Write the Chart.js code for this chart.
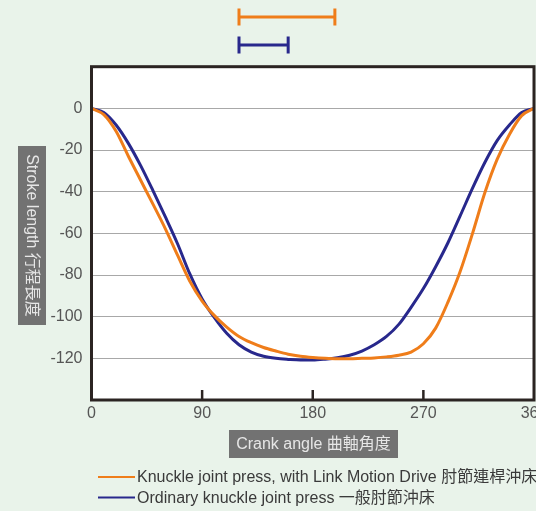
<!DOCTYPE html>
<html>
<head>
<meta charset="utf-8">
<script src="https://cdn.jsdelivr.net/npm/chart.js@4.4.0/dist/chart.umd.min.js"></script>
<style>
  html, body { margin: 0; padding: 0; background: #e9f3ea; }
</style>
</head>
<body>
<canvas id="chart_div" width="536" height="511"></canvas>
<script>
// crank angle (deg) and stroke (mm)
const angles = [0, 10, 20, 30, 40, 50, 60, 70, 80, 90, 100, 110, 120, 130, 140, 150, 160, 170, 180,
  190, 200, 210, 220, 230, 240, 250, 260, 270, 280, 290, 300, 310, 320, 330, 340, 350, 360];
const linkMotion = [0, -3, -11, -23, -34.5, -46, -57.7, -70.5, -83, -92.5, -99.5, -105, -109.5, -112.5, -114.8, -116.5, -118, -119, -119.6,
  -120, -120.2, -120.2, -120, -119.8, -119.3, -118.5, -117, -113, -105.5, -93, -78.2, -60, -40.5, -24.5, -12.5, -3.5, 0];
const ordinary = [0, -2, -8, -16.8, -27.5, -39.5, -52, -65, -79.5, -91.5, -100.5, -108, -113.5, -117, -119, -120, -120.5, -120.8, -120.8,
  -120.4, -119.7, -118.5, -116.5, -113.5, -109.5, -103.7, -95.5, -86.5, -76, -64.5, -51.5, -38.3, -26, -15.5, -8, -2, 0];
const seriesNames = ['Knuckle joint press, with Link Motion Drive 肘節連桿沖床', 'Ordinary knuckle joint press 一般肘節沖床'];
const seriesColors = ['#ef7d1a', '#28288c'];
// the bars above the plot (crank angle range)
const rangeStart = [120, 120];
const rangeEnd = [198, 160];
const xTicks = [0, 90, 180, 270, 360];
const yTicks = [0, -20, -40, -60, -80, -100, -120];
const xTitle = 'Crank angle 曲軸角度';
const yTitle = 'Stroke length 行程長度';

const FONT = '"Liberation Sans", "Noto Sans CJK TC", sans-serif';
Chart.defaults.font.family = FONT;

function pts(vals) {
  return angles.map((a, i) => ({ x: a, y: vals[i] }));
}

const extras = {
  id: 'extras',
  beforeDraw(chart) {
    const { ctx, chartArea: a } = chart;
    ctx.save();
    ctx.fillStyle = '#ffffff';
    ctx.fillRect(a.left, a.top, a.right - a.left, a.bottom - a.top);
    ctx.restore();
  },
  afterDraw(chart) {
    const { ctx, chartArea: a } = chart;
    const xs = chart.scales.x;
    ctx.save();
    // frame
    ctx.strokeStyle = '#2b2422';
    ctx.lineWidth = 3;
    ctx.strokeRect(a.left, a.top, a.right - a.left, a.bottom - a.top);
    // inner ticks on x axis
    ctx.lineWidth = 2.5;
    [90, 180, 270].forEach(v => {
      const px = xs.getPixelForValue(v);
      ctx.beginPath();
      ctx.moveTo(px, a.bottom);
      ctx.lineTo(px, a.bottom - 10);
      ctx.stroke();
    });
    // range bars on top
    const barY = [17, 45];
    ctx.lineWidth = 3;
    for (let i = 0; i < rangeStart.length; i++) {
      const x1 = xs.getPixelForValue(rangeStart[i]);
      const x2 = xs.getPixelForValue(rangeEnd[i]);
      ctx.strokeStyle = seriesColors[i];
      ctx.beginPath();
      ctx.moveTo(x1, barY[i]); ctx.lineTo(x2, barY[i]);
      ctx.moveTo(x1, barY[i] - 8.5); ctx.lineTo(x1, barY[i] + 8.5);
      ctx.moveTo(x2, barY[i] - 8.5); ctx.lineTo(x2, barY[i] + 8.5);
      ctx.stroke();
    }
    // y title (reads top to bottom)
    ctx.font = '16px ' + FONT;
    ctx.textAlign = 'center';
    ctx.textBaseline = 'middle';
    ctx.save();
    ctx.translate(32, 235.5);
    ctx.rotate(Math.PI / 2);
    ctx.fillStyle = '#727272';
    ctx.fillRect(-89.5, -14, 179, 28);
    ctx.fillStyle = '#e6e6e6';
    ctx.fillText(yTitle, 0, 1);
    ctx.restore();
    // x title
    ctx.fillStyle = '#727272';
    ctx.fillRect(229, 430, 169, 28);
    ctx.fillStyle = '#e6e6e6';
    ctx.fillText(xTitle, 313.5, 444.5);
    // legend
    ctx.textAlign = 'left';
    const legY = [477, 497.5];
    for (let i = 0; i < seriesNames.length; i++) {
      ctx.strokeStyle = seriesColors[i];
      ctx.lineWidth = 2;
      ctx.beginPath();
      ctx.moveTo(98, legY[i]); ctx.lineTo(135, legY[i]);
      ctx.stroke();
      ctx.fillStyle = '#3a3a3a';
      ctx.fillText(seriesNames[i], 137, legY[i] + 1);
    }
    ctx.restore();
  }
};

new Chart(document.getElementById('chart_div'), {
  type: 'line',
  data: {
    datasets: [
      { label: seriesNames[0], data: pts(linkMotion), borderColor: seriesColors[0], borderWidth: 3,
        pointRadius: 0, cubicInterpolationMode: 'monotone', fill: false },
      { label: seriesNames[1], data: pts(ordinary), borderColor: seriesColors[1], borderWidth: 3,
        pointRadius: 0, cubicInterpolationMode: 'monotone', fill: false }
    ]
  },
  options: {
    responsive: false,
    animation: false,
    layout: { padding: { top: 66.7, right: 2, left: 0, bottom: 0 }, autoPadding: false },
    plugins: { legend: { display: false }, tooltip: { enabled: false } },
    scales: {
      x: {
        type: 'linear', min: 0, max: 360,
        afterBuildTicks: s => { s.ticks = xTicks.map(v => ({ value: v })); },
        afterFit: s => { s.height = 111; s.paddingLeft = 0; s.paddingRight = 0; },
        grid: { display: false, drawTicks: false },
        border: { display: false },
        ticks: { color: '#555', font: { size: 16 }, padding: 4, maxRotation: 0 }
      },
      y: {
        min: -140, max: 20,
        afterBuildTicks: s => { s.ticks = yTicks.map(v => ({ value: v })); },
        afterFit: s => { s.width = 91.5; s.paddingTop = 0; s.paddingBottom = 0; },
        grid: { color: '#a8a8a8', lineWidth: 1, drawTicks: false },
        border: { display: false },
        ticks: { color: '#555', font: { size: 16 }, padding: 9 }
      }
    }
  },
  plugins: [extras]
});
</script>
</body>
</html>
